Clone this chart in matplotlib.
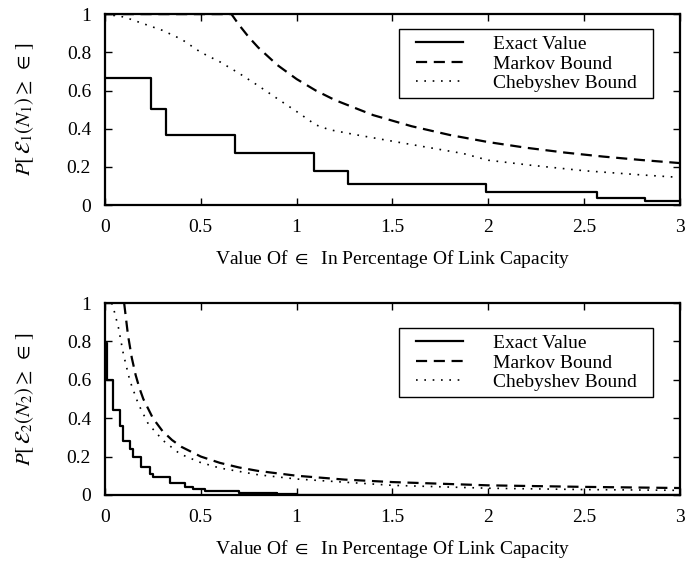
import matplotlib
matplotlib.use("Agg")
import matplotlib.pyplot as plt
from matplotlib.patches import Rectangle

plt.rcParams['font.family'] = ['Liberation Serif', 'DejaVu Serif']
plt.rcParams['mathtext.fontset'] = 'stix'

# top panel: E1(N1)
exact1_x = [0, 0.24, 0.32, 0.68, 1.09, 1.27, 1.99, 2.57, 2.82, 3.0]
exact1_y = [0.667, 0.505, 0.366, 0.274, 0.18, 0.113, 0.07, 0.035, 0.021, 0.021]

markov1_x = [0, 0.66, 0.7, 0.75, 0.8, 0.9, 1.0, 1.1, 1.2, 1.4, 1.6, 1.8, 2.0, 2.2, 2.4, 2.6, 2.8, 3.0]
markov1_y = [1, 1, 0.943, 0.88, 0.825, 0.733, 0.66, 0.6, 0.55, 0.471, 0.413, 0.367, 0.33, 0.3, 0.275, 0.254, 0.236, 0.22]

cheb1_x = [0, 0.1, 0.2, 0.3, 0.4, 0.5, 0.6, 0.7, 0.8, 0.9, 1.0, 1.05, 1.1, 1.17, 1.3, 1.52, 1.87, 2.0, 2.22, 2.5, 2.8, 3.0]
cheb1_y = [1.0, 0.985, 0.95, 0.915, 0.868, 0.80, 0.75, 0.69, 0.625, 0.557, 0.49, 0.455, 0.42, 0.395, 0.37, 0.331, 0.27, 0.235, 0.209, 0.18, 0.158, 0.145]

# bottom panel: E2(N2)
exact2_x = [0, 0.012, 0.043, 0.078, 0.092, 0.13, 0.148, 0.186, 0.235, 0.252, 0.339,
            0.417, 0.461, 0.52, 0.7, 0.9, 1.0, 3.0]
exact2_y = [0.79, 0.6, 0.44, 0.36, 0.283, 0.24, 0.196, 0.148, 0.11, 0.095, 0.06,
            0.043, 0.03, 0.02, 0.01, 0.004, 0, 0]

markov2_x = [0.1, 0.12, 0.14, 0.16, 0.18, 0.2, 0.25, 0.3, 0.35, 0.4, 0.5, 0.6, 0.7, 0.8,
             1.0, 1.25, 1.5, 2.0, 2.5, 3.0]
markov2_y = [1, 0.833, 0.714, 0.625, 0.556, 0.5, 0.4, 0.333, 0.286, 0.25, 0.2, 0.167, 0.143, 0.125,
             0.1, 0.08, 0.067, 0.05, 0.042, 0.036]

cheb2_x = [0.035, 0.043, 0.07, 0.096, 0.13, 0.174, 0.226, 0.304, 0.391, 0.496, 0.6, 0.8,
           1.0, 1.5, 2.0, 2.5, 3.0]
cheb2_y = [1.0, 0.978, 0.873, 0.734, 0.595, 0.474, 0.37, 0.283, 0.214, 0.17, 0.14, 0.105,
           0.083, 0.05, 0.035, 0.028, 0.024]

xticks = [0, 0.5, 1, 1.5, 2, 2.5, 3]
xticklabels = ['0', '0.5', '1', '1.5', '2', '2.5', '3']
yticks = [0, 0.2, 0.4, 0.6, 0.8, 1]
yticklabels = ['0', '0.2', '0.4', '0.6', '0.8', '1']

xlabel = r'Value Of $\in$  In Percentage Of Link Capacity'
ylabels = [r'$P[\,\mathcal{E}_1(N_1) \geq\ \in\,]$', r'$P[\,\mathcal{E}_2(N_2) \geq\ \in\,]$']

fig = plt.figure(figsize=(6.98, 5.65), dpi=100)
ax1 = fig.add_axes([0.1504, 0.637, 0.8236, 0.338])
ax2 = fig.add_axes([0.1504, 0.124, 0.8236, 0.3397])

# (axes, data..., legend box bottom, legend box top, legend text top, xlabel y)
panels = [
    (ax1, exact1_x, exact1_y, markov1_x, markov1_y, cheb1_x, cheb1_y, 0.560, 0.921, 0.888, -0.283),
    (ax2, exact2_x, exact2_y, markov2_x, markov2_y, cheb2_x, cheb2_y, 0.510, 0.870, 0.836, -0.281),
]

for i, (ax, ex, ey, mx, my, cx, cy, box_lo, box_hi, leg_top, xl_y) in enumerate(panels):
    ax.plot(ex, ey, color='black', lw=1.6, drawstyle='steps-post', label='Exact Value')
    ax.plot(mx, my, color='black', lw=1.6, dashes=(5, 3), label='Markov Bound')
    ax.plot(cx, cy, color='black', lw=1.2, dashes=(1, 4), label='Chebyshev Bound')
    ax.set_xlim(0, 3)
    ax.set_ylim(0, 1)
    ax.set_xticks(xticks)
    ax.set_xticklabels(xticklabels)
    ax.set_yticks(yticks)
    ax.set_yticklabels(yticklabels)
    ax.tick_params(direction='in', top=True, right=True, length=5, width=1,
                   labelsize=14, pad=10)
    for sp in ax.spines.values():
        sp.set_linewidth(1.6)
    ax.set_xlabel(xlabel, fontsize=14)
    ax.xaxis.set_label_coords(0.5, xl_y)
    ax.xaxis.label.set_va('center')
    ax.set_ylabel(ylabels[i], fontsize=15)
    ax.yaxis.set_label_coords(-0.139, 0.5)
    ax.yaxis.label.set_va('center')

    # legend frame drawn separately (gnuplot style box)
    ax.add_patch(Rectangle((0.511, box_lo), 0.442, box_hi - box_lo,
                           transform=ax.transAxes, facecolor='white', edgecolor='black',
                           lw=1.0, zorder=4.5))
    leg = ax.legend(loc='upper left', bbox_to_anchor=(0.541, leg_top), fontsize=14,
                    frameon=False, handlelength=2.4, handletextpad=1.55,
                    borderpad=0, labelspacing=0.1, borderaxespad=0)
    leg.set_zorder(5)

fig.savefig('out.png', dpi=100)
